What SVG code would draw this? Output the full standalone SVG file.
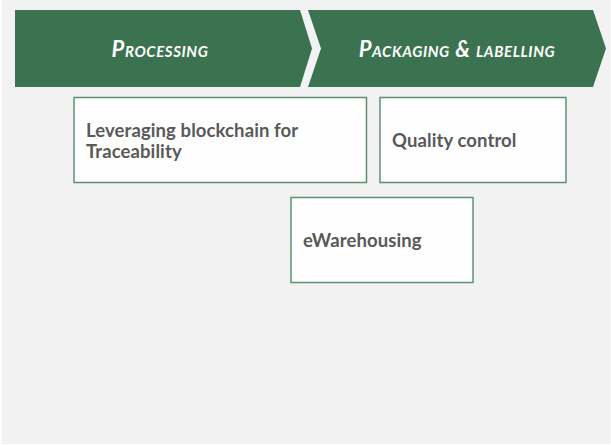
<svg xmlns="http://www.w3.org/2000/svg" width="611" height="445" viewBox="0 0 611 445">
<style>
.chev{fill:#3b7250;}
.ct{font-family:Lato,"Liberation Sans",sans-serif;font-style:italic;font-weight:bold;font-variant:small-caps;font-size:22px;letter-spacing:0.6px;fill:#ffffff;text-anchor:middle;}
.box{fill:#fefefe;stroke:#5d9171;stroke-width:1.5;}
.bt{font-family:Lato,"Liberation Sans",sans-serif;font-weight:bold;font-size:18.5px;letter-spacing:0.1px;fill:#595959;}
</style>
<rect x="0" y="0" width="611" height="445" fill="#ffffff"/>
<rect x="1.5" y="0" width="609" height="444" fill="#f2f2f2"/>
<g id="stage-processing">
<polygon class="chev" points="15,10 300,10 312,48.5 300,87 15,87"/>
<text class="ct" x="160" y="57">Processing</text>
</g>
<g id="stage-packaging">
<polygon class="chev" points="308,10 593,10 606,48.5 593,87 308,87 321,48.5"/>
<text class="ct" x="457" y="57">Packaging &amp; labelling</text>
</g>
<g id="node-blockchain">
<rect class="box" x="74" y="97.5" width="292.5" height="85"/>
<text class="bt" x="86" y="137">Leveraging blockchain for</text>
<text class="bt" x="86" y="158">Traceability</text>
</g>
<g id="node-quality">
<rect class="box" x="380" y="97.5" width="186" height="85"/>
<text class="bt" x="392" y="147">Quality control</text>
</g>
<g id="node-ewarehousing">
<rect class="box" x="291" y="197.5" width="182" height="85"/>
<text class="bt" x="303" y="247">eWarehousing</text>
</g>
<g id="connectors"></g>
</svg>
